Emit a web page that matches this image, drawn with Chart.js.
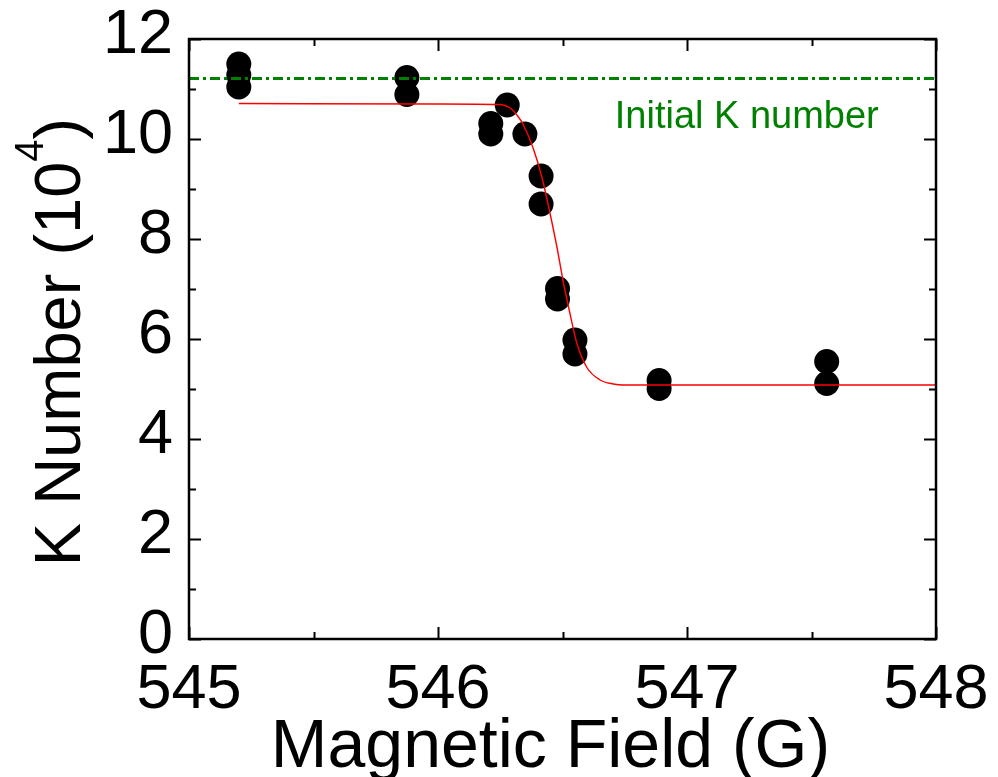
<!DOCTYPE html>
<html>
<head>
<meta charset="utf-8">
<script src="https://cdn.jsdelivr.net/npm/chart.js@4"></script>
<style>
  html, body { margin: 0; padding: 0; background: #ffffff; }
  #wrap { width: 998px; height: 777px; }
</style>
</head>
<body>
<div id="wrap"><canvas id="c" width="998" height="777"></canvas></div>
<script>
// ---- data ----
const fieldG = [545.2, 545.2, 545.2, 545.875, 545.875, 546.212, 546.212, 546.278, 546.349,
                546.414, 546.414, 546.48, 546.48, 546.55, 546.55, 546.888, 546.888, 547.561, 547.561];
const kNumber = [11.5, 11.28, 11.04, 11.23, 10.89, 10.31, 10.10, 10.68, 10.10,
                 9.26, 8.70, 7.01, 6.80, 5.98, 5.70, 5.17, 5.01, 5.55, 5.11];

const fitField = [545.2, 546.0, 546.25, 546.29, 546.32, 546.341, 546.382, 546.418, 546.45, 546.478,
                  546.502, 546.53, 546.558, 546.598, 546.651, 546.704, 546.744, 547.2, 548.0];
const fitK = [10.71, 10.70, 10.69, 10.62, 10.46, 10.30, 9.82, 9.22, 8.51, 7.83,
              7.17, 6.51, 5.91, 5.43, 5.18, 5.10, 5.08, 5.08, 5.08];

const initialK = 11.21;
const initialLabel = "Initial K number";
const initialLabelAt = [547.24, 10.22];

const xRange = [545, 548];
const yRange = [0, 12];
const xMajorStep = 1, xMinorStep = 0.5;
const yMajorStep = 2, yMinorStep = 1;

const xTitle = "Magnetic Field (G)";
const yTitleMain = "K Number (10";
const yTitleSup = "4";
const yTitleEnd = ")";

const FONT = "'Liberation Sans', Arial, Helvetica, sans-serif";

// ---- plugins ----
const framePlugin = {
  id: 'frame',
  afterDraw(chart) {
    const ctx = chart.ctx;
    const a = chart.chartArea;
    const xs = chart.scales.x, ys = chart.scales.y;
    ctx.save();
    ctx.strokeStyle = '#000';
    ctx.lineCap = 'butt';
    // inward ticks
    ctx.lineWidth = 2;
    const nx = Math.round((xRange[1] - xRange[0]) / xMinorStep);
    for (let i = 0; i <= nx; i++) {
      const v = xRange[0] + i * xMinorStep;
      const major = Math.abs((v - xRange[0]) / xMajorStep - Math.round((v - xRange[0]) / xMajorStep)) < 1e-6;
      const len = major ? 12 : 7;
      const px = Math.round(xs.getPixelForValue(v)) + 0.5;
      ctx.beginPath();
      ctx.moveTo(px, a.bottom); ctx.lineTo(px, a.bottom - len);
      ctx.moveTo(px, a.top); ctx.lineTo(px, a.top + len);
      ctx.stroke();
    }
    const ny = Math.round((yRange[1] - yRange[0]) / yMinorStep);
    for (let i = 0; i <= ny; i++) {
      const v = yRange[0] + i * yMinorStep;
      const major = Math.abs((v - yRange[0]) / yMajorStep - Math.round((v - yRange[0]) / yMajorStep)) < 1e-6;
      const len = major ? 12 : 7;
      const py = Math.round(ys.getPixelForValue(v)) + 0.5;
      ctx.beginPath();
      ctx.moveTo(a.left, py); ctx.lineTo(a.left + len, py);
      ctx.moveTo(a.right, py); ctx.lineTo(a.right - len, py);
      ctx.stroke();
    }
    // frame
    ctx.lineWidth = 2.5;
    ctx.strokeRect(a.left, a.top, a.right - a.left, a.bottom - a.top);

    // annotation label
    ctx.fillStyle = '#008000';
    ctx.font = '38px ' + FONT;
    ctx.textAlign = 'center';
    ctx.textBaseline = 'alphabetic';
    ctx.fillText(initialLabel, xs.getPixelForValue(initialLabelAt[0]), ys.getPixelForValue(initialLabelAt[1]));

    // x title
    ctx.fillStyle = '#000';
    ctx.font = '68px ' + FONT;
    ctx.textAlign = 'center';
    ctx.fillText(xTitle, (a.left + a.right) / 2 - 12, a.bottom + 128);

    // y title with superscript
    const mainFont = '65px ' + FONT, supFont = '40px ' + FONT;
    ctx.font = mainFont; const w1 = ctx.measureText(yTitleMain).width; const w3 = ctx.measureText(yTitleEnd).width;
    ctx.font = supFont; const w2 = ctx.measureText(yTitleSup).width;
    const total = w1 + w2 + w3;
    ctx.translate(a.left - 109, (a.top + a.bottom) / 2 + 3);
    ctx.rotate(-Math.PI / 2);
    ctx.textAlign = 'left';
    let x0 = -total / 2;
    ctx.font = mainFont; ctx.fillText(yTitleMain, x0, 0); x0 += w1;
    ctx.font = supFont; ctx.fillText(yTitleSup, x0, -37); x0 += w2;
    ctx.font = mainFont; ctx.fillText(yTitleEnd, x0, 0);
    ctx.restore();
  }
};

const ctx = document.getElementById('c').getContext('2d');
new Chart(ctx, {
  type: 'scatter',
  data: {
    datasets: [
      {
        label: 'initial',
        type: 'line',
        data: xRange.map(x => ({ x: x, y: initialK })),
        borderColor: '#008000',
        borderWidth: 3,
        borderDash: [10, 4, 3, 4],
        pointRadius: 0,
        fill: false
      },
      {
        label: 'fit',
        type: 'line',
        data: fitField.map((x, i) => ({ x: x, y: fitK[i] })),
        borderColor: '#ff0000',
        borderWidth: 1.4,
        pointRadius: 0,
        cubicInterpolationMode: 'monotone',
        fill: false
      },
      {
        label: 'data',
        data: fieldG.map((x, i) => ({ x: x, y: kNumber[i] })),
        backgroundColor: '#000000',
        borderWidth: 0,
        pointRadius: 12.5,
        pointHoverRadius: 12.5
      }
    ]
  },
  options: {
    responsive: false,
    animation: false,
    devicePixelRatio: 1,
    layout: { padding: { top: 39, right: 62, left: 0, bottom: 0 } },
    plugins: { legend: { display: false }, tooltip: { enabled: false } },
    events: [],
    scales: {
      x: {
        type: 'linear',
        min: xRange[0], max: xRange[1],
        grid: { display: false, drawTicks: false },
        border: { display: false },
        ticks: { stepSize: xMajorStep, color: '#000', font: { family: FONT, size: 63 }, padding: 14, maxRotation: 0 },
        title: { display: false },
        afterFit(s) { s.height = 138; s.paddingLeft = 0; s.paddingRight = 0; }
      },
      y: {
        type: 'linear',
        min: yRange[0], max: yRange[1],
        grid: { display: false, drawTicks: false },
        border: { display: false },
        ticks: { stepSize: yMajorStep, color: '#000', font: { family: FONT, size: 63 }, padding: 16, labelOffset: -3 },
        afterFit(s) { s.width = 189; s.paddingTop = 0; s.paddingBottom = 0; }
      }
    }
  },
  plugins: [framePlugin]
});
</script>
</body>
</html>
